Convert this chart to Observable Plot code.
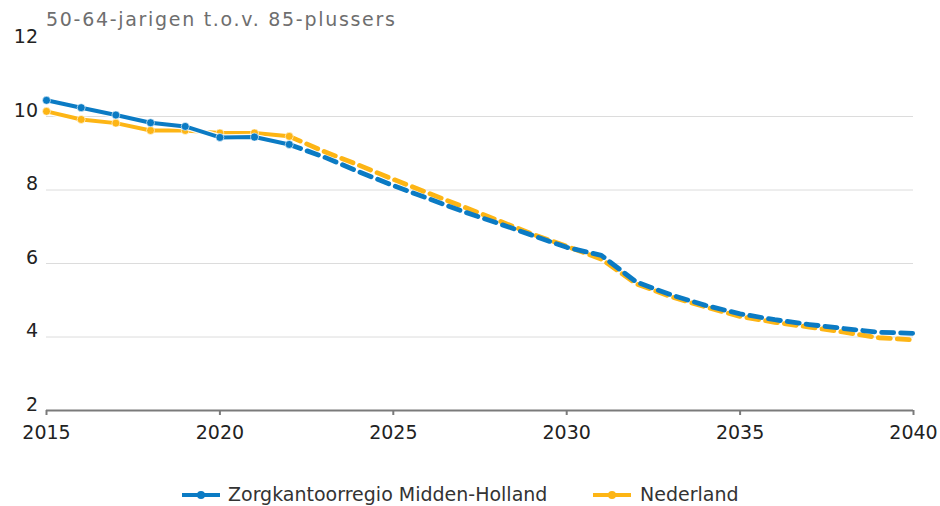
<!DOCTYPE html>
<html>
<head>
<meta charset="utf-8">
<script src="https://cdn.jsdelivr.net/npm/d3@7"></script>
<script src="https://cdn.jsdelivr.net/npm/@observablehq/plot@0.6"></script>
<style>
  html, body { margin: 0; padding: 0; background: #fff; }
  body { width: 940px; height: 506px; position: relative; overflow: hidden; font-family: "DejaVu Sans", Verdana, sans-serif; }
  #title { position: absolute; left: 46px; top: 10px; font-size: 19px; line-height: 19px; color: #6e6e6e; letter-spacing: 1.7px; white-space: nowrap; }
  #chart { position: absolute; left: 0; top: 0; }
  .leg { position: absolute; top: 485px; font-size: 19px; line-height: 19px; color: #333; white-space: nowrap; }
  .sw { position: absolute; top: 487px; }
</style>
</head>
<body>
<div id="chart"></div>
<div id="title">50-64-jarigen t.o.v. 85-plussers</div>
<div id="legend"></div>
<script>
// ---- data ----
const jaren = [2015, 2016, 2017, 2018, 2019, 2020, 2021, 2022, 2023, 2024, 2025, 2026, 2027,
               2028, 2029, 2030, 2031, 2032, 2033, 2034, 2035, 2036, 2037, 2038, 2039, 2040];
const middenHolland = [10.44, 10.24, 10.04, 9.83, 9.73, 9.43, 9.44, 9.24, 8.9, 8.5, 8.12, 7.77, 7.42,
                       7.1, 6.77, 6.44, 6.22, 5.5, 5.15, 4.86, 4.63, 4.47, 4.34, 4.23, 4.13, 4.1];
const nederland = [10.14, 9.92, 9.82, 9.62, 9.62, 9.55, 9.55, 9.46, 9.05, 8.68, 8.29, 7.92, 7.55,
                   7.18, 6.8, 6.47, 6.12, 5.45, 5.1, 4.82, 4.56, 4.4, 4.27, 4.13, 3.98, 3.92];
const laatsteWaarneming = 2022;
const seriesNamen = ["Zorgkantoorregio Midden-Holland", "Nederland"];
const kleuren = ["#0b7bc4", "#fdb515"];
const xTicks = [2015, 2020, 2025, 2030, 2035, 2040];
const yTicks = [2, 4, 6, 8, 10, 12];
const gridTicks = [4, 6, 8, 10];
const titel = "50-64-jarigen t.o.v. 85-plussers";

// ---- build rows ----
const rows = [];
[middenHolland, nederland].forEach((vals, i) => {
  jaren.forEach((j, k) => rows.push({jaar: j, waarde: vals[k], serie: seriesNamen[i]}));
});
const obs = rows.filter(d => d.jaar <= laatsteWaarneming);
const prog = rows.filter(d => d.jaar >= laatsteWaarneming);
const order = [seriesNamen[1], seriesNamen[0]]; // draw Nederland first, blue on top

const marks = [
  Plot.ruleY(gridTicks, {stroke: "#dcdcdc", strokeWidth: 1}),
];
for (const s of order) {
  const o = obs.filter(d => d.serie === s), p = prog.filter(d => d.serie === s);
  marks.push(
    Plot.line(o, {x: "jaar", y: "waarde", stroke: "#fff", strokeWidth: 6.5, strokeOpacity: 0.9}),
    Plot.line(p, {x: "jaar", y: "waarde", stroke: "serie", strokeWidth: 4.8, strokeDasharray: "12,7"}),
    Plot.line(o, {x: "jaar", y: "waarde", stroke: "serie", strokeWidth: 4}),
    Plot.dot(o, {x: "jaar", y: "waarde", fill: "serie", r: 4, stroke: "#fff", strokeWidth: 1, strokeOpacity: 0.6})
  );
}
marks.push(
  Plot.ruleY([2], {stroke: "#7a7a7a", strokeWidth: 2}),
  Plot.axisX({ticks: xTicks, tickFormat: d => String(d), tickSize: 5, tickPadding: 10, label: null,
              stroke: "#7a7a7a", strokeWidth: 2, fill: "#222", fontSize: 19}),
  Plot.axisY({ticks: yTicks, tickSize: 0, tickPadding: 8.5, dy: -6, label: null, fill: "#222", fontSize: 19})
);

const chart = Plot.plot({
  width: 940,
  height: 470,
  marginLeft: 46,
  marginRight: 27,
  marginTop: 42.5,
  marginBottom: 60,
  style: {fontFamily: "DejaVu Sans, Verdana, sans-serif", background: "#fff", overflow: "visible"},
  x: {domain: [2015, 2040], label: null},
  y: {domain: [2, 12], label: null},
  color: {domain: seriesNamen, range: kleuren},
  marks
});
document.getElementById("chart").appendChild(chart);
document.getElementById("title").textContent = titel;

// ---- legend ----
const legend = document.getElementById("legend");
const legPos = [{sw: 182, tx: 228}, {sw: 593, tx: 640}];
seriesNamen.forEach((naam, i) => {
  const sw = document.createElementNS("http://www.w3.org/2000/svg", "svg");
  sw.setAttribute("width", 38); sw.setAttribute("height", 16);
  sw.setAttribute("class", "sw");
  sw.style.left = legPos[i].sw + "px";
  sw.innerHTML = `<line x1="0" y1="8" x2="38" y2="8" stroke="${kleuren[i]}" stroke-width="4"/>` +
                 `<circle cx="19" cy="8" r="4" fill="${kleuren[i]}"/>`;
  legend.appendChild(sw);
  const t = document.createElement("div");
  t.className = "leg";
  t.style.left = legPos[i].tx + "px";
  t.textContent = naam;
  legend.appendChild(t);
});
</script>
</body>
</html>
